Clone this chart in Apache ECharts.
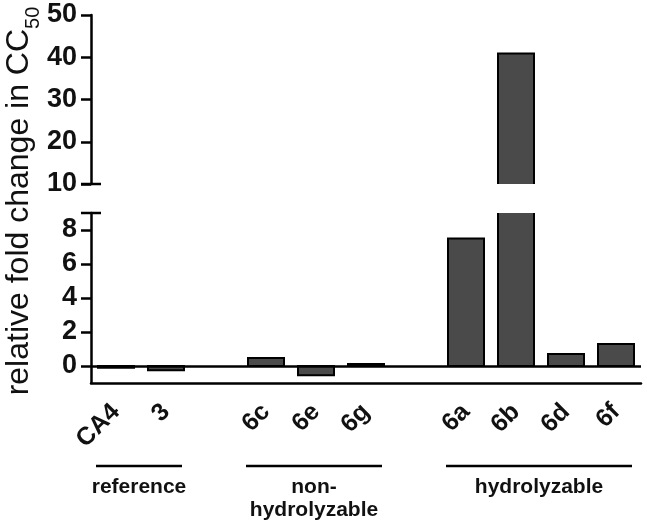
<!DOCTYPE html>
<html><head><meta charset="utf-8">
<script src="https://cdn.jsdelivr.net/npm/echarts@6/dist/echarts.min.js"></script>
<style>html,body{margin:0;padding:0;background:#fff}#c{width:647px;height:523px}</style>
</head><body><div id="c"></div>
<script>
const categories = ['CA4','3','','6c','6e','6g','','6a','6b','6d','6f'];
const foldChange = [-0.1,-0.25,null,0.47,-0.55,0.12,null,7.5,40.9,0.7,1.3];
const upperTicks = [10,20,30,40,50];
const lowerTicks = [0,2,4,6,8];
const groupNames = ['reference','non-\nhydrolyzable','hydrolyzable'];
const groupFirst = [0,3,7];
const groupLast = [1,5,10];

const FONT = "'Liberation Sans', Arial, sans-serif";
const AX = {color:'#000', width:2.5};
const chart = echarts.init(document.getElementById('c'), null, {renderer:'canvas'});

const yLabel = {fontFamily:FONT, fontWeight:'bold', fontSize:27, color:'#111', margin:14};
const barData = foldChange.map((v,i)=>[i, v]);

// bars drawn through the axes; edges cut by the axis break get no border
function renderBar(params, api){
  const v = api.value(1);
  if (v === null || v === undefined || isNaN(v)) return null;
  const idx = api.value(0);
  const base = api.coord([idx, 0]);
  const top = api.coord([idx, v]);
  const w = api.size([1, 0])[0] * 0.72;
  const cs = params.coordSys;
  const y0 = Math.min(base[1], top[1]), y1 = Math.max(base[1], top[1]);
  const cy0 = Math.max(y0, cs.y), cy1 = Math.min(y1, cs.y + cs.height);
  if (cy1 <= cy0) return null;
  const xl = base[0] - w/2, xr = base[0] + w/2;
  const st = {stroke:'#000', lineWidth:2};
  const children = [
    {type:'rect', shape:{x:xl, y:cy0, width:w, height:cy1-cy0}, style:{fill:'#4a4a4a'}},
    {type:'line', shape:{x1:xl, y1:cy0, x2:xl, y2:cy1}, style:st},
    {type:'line', shape:{x1:xr, y1:cy0, x2:xr, y2:cy1}, style:st}
  ];
  if (y0 >= cs.y) children.push({type:'line', shape:{x1:xl-1, y1:cy0, x2:xr+1, y2:cy0}, style:st});
  if (y1 <= cs.y + cs.height) children.push({type:'line', shape:{x1:xl-1, y1:cy1, x2:xr+1, y2:cy1}, style:st});
  return {type:'group', children:children};
}

chart.setOption({
  animation:false,
  backgroundColor:'#fff',
  grid:[
    {left:91, width:550, top:15, height:169},
    {left:91, width:550, top:213, height:170}
  ],
  xAxis:[
    {type:'category', gridIndex:0, data:categories, show:false},
    {type:'category', gridIndex:1, data:categories, position:'bottom',
     axisLine:{show:true, onZero:false, lineStyle:AX}, axisTick:{show:false},
     axisLabel:{rotate:45, fontFamily:FONT, fontWeight:'bold', fontSize:25, color:'#111', margin:25, interval:0}}
  ],
  yAxis:[
    {type:'value', gridIndex:0, min:upperTicks[0], max:upperTicks[upperTicks.length-1], interval:10,
     axisLine:{show:true, lineStyle:AX}, axisTick:{show:true, length:10, lineStyle:AX},
     splitLine:{show:false}, axisLabel:yLabel},
    {type:'value', gridIndex:1, min:-1, max:9,
     axisLine:{show:true, lineStyle:AX},
     axisTick:{show:true, length:10, lineStyle:AX, customValues:lowerTicks},
     splitLine:{show:false}, axisLabel:Object.assign({customValues:lowerTicks}, yLabel)}
  ],
  series:[
    {type:'custom', xAxisIndex:0, yAxisIndex:0, data:barData, renderItem:renderBar, clip:true, encode:{x:0, y:1}},
    {type:'custom', xAxisIndex:1, yAxisIndex:1, data:barData, renderItem:renderBar, clip:true, encode:{x:0, y:1}},
    {type:'line', xAxisIndex:1, yAxisIndex:1, data:[], 
     markLine:{silent:true, symbol:'none', label:{show:false}, lineStyle:{color:'#000', width:2.5, type:'solid'},
       data:[{yAxis:0}]}}
  ]
});

// decorations: axis caps, group brackets, y title
const g0 = chart.getModel().getComponent('grid',0).coordinateSystem.getRect();
const g1 = chart.getModel().getComponent('grid',1).coordinateSystem.getRect();
const graphics = [];
graphics.push({type:'line', shape:{x1:g0.x-10, y1:g0.y+g0.height, x2:g0.x+10, y2:g0.y+g0.height}, style:{stroke:'#000', lineWidth:2.5}});
graphics.push({type:'line', shape:{x1:g1.x-10, y1:g1.y, x2:g1.x+10, y2:g1.y}, style:{stroke:'#000', lineWidth:2.5}});
const lineY = g1.y + g1.height + 83;
for (let i=0;i<groupNames.length;i++){
  const x1 = chart.convertToPixel({xAxisIndex:1, yAxisIndex:1}, [groupFirst[i], 0])[0] - 20;
  const x2 = chart.convertToPixel({xAxisIndex:1, yAxisIndex:1}, [groupLast[i], 0])[0] + 16;
  graphics.push({type:'line', shape:{x1:x1, y1:lineY, x2:x2, y2:lineY}, style:{stroke:'#000', lineWidth:2.5}});
  graphics.push({type:'text', x:(x1+x2)/2, y:lineY+10,
    style:{text:groupNames[i], fill:'#111', font:'bold 21px '+FONT, align:'center', verticalAlign:'top', lineHeight:23}});
}
graphics.push({type:'text', x:18, y:(g0.y+g1.y+g1.height)/2 + 2, rotation:Math.PI/2,
  style:{text:'{a|relative fold change in CC}{b|50}', align:'center', verticalAlign:'middle', fill:'#111',
    rich:{a:{fontFamily:FONT, fontSize:32, fill:'#111', verticalAlign:'bottom', lineHeight:35},
          b:{fontFamily:FONT, fontSize:20, fill:'#111', verticalAlign:'bottom', lineHeight:35, padding:[0,0,-8,0]}}}});
chart.setOption({graphic:graphics});
</script></body></html>
